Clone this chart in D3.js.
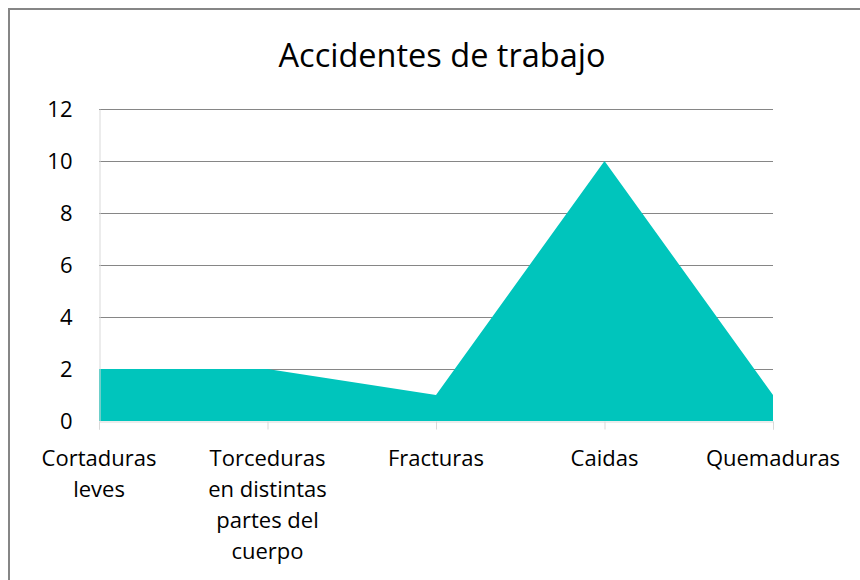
<!DOCTYPE html>
<html>
<head>
<meta charset="utf-8">
<script src="https://cdn.jsdelivr.net/npm/d3@7"></script>
<style>
  body { margin: 0; background: #fff; }
  svg { display: block; font-family: "Open Sans", "DejaVu Sans", sans-serif; }
</style>
</head>
<body>
<div id="chart"></div>
<script>
const categories = ["Cortaduras leves", "Torceduras en distintas partes del cuerpo", "Fracturas", "Caidas", "Quemaduras"];
const values = [2, 2, 1, 10, 1];
const yTicks = [0, 2, 4, 6, 8, 10, 12];
const title = "Accidentes de trabajo";

const width = 860, height = 580;
const margin = { top: 109, right: 87, bottom: 159, left: 99 };

const svg = d3.select("#chart").append("svg")
  .attr("width", width)
  .attr("height", height);

// chart frame
svg.append("rect")
  .attr("x", 9).attr("y", 9)
  .attr("width", width + 20).attr("height", height + 20)
  .attr("fill", "#fff")
  .attr("stroke", "#868686")
  .attr("stroke-width", 2);

svg.append("text")
  .attr("x", 442).attr("y", 67)
  .attr("text-anchor", "middle")
  .attr("font-size", 32.5)
  .attr("fill", "#000")
  .text(title);

const x = d3.scalePoint()
  .domain(categories)
  .range([margin.left, width - margin.right]);

const y = d3.scaleLinear()
  .domain([0, 12])
  .range([height - margin.bottom, margin.top]);

// gridlines
svg.append("g")
  .selectAll("line")
  .data(yTicks.filter(d => d > 0))
  .join("line")
  .attr("x1", margin.left).attr("x2", width - margin.right)
  .attr("y1", d => Math.round(y(d)) + 0.5)
  .attr("y2", d => Math.round(y(d)) + 0.5)
  .attr("stroke", "#868686");

const area = d3.area()
  .x((d, i) => x(categories[i]))
  .y0(y(0))
  .y1(d => y(d));

svg.append("path")
  .datum(values)
  .attr("d", area)
  .attr("fill", "#00c5bc");

// y axis
const yAxis = svg.append("g")
  .attr("transform", `translate(${margin.left + 0.5},0)`)
  .call(d3.axisLeft(y).tickValues(yTicks).tickSize(0).tickPadding(27));
yAxis.select(".domain").attr("stroke", "#d9d9d9");
yAxis.selectAll("text").attr("font-size", 22).attr("fill", "#000")
  .attr("font-family", "Open Sans");

// x axis
const xAxis = svg.append("g")
  .attr("transform", `translate(0,${Math.round(y(0)) + 0.5})`)
  .call(d3.axisBottom(x).tickSize(8).tickPadding(0).tickFormat(""));
xAxis.select(".domain").attr("stroke", "#d9d9d9");
xAxis.selectAll(".tick line").attr("stroke", "#d9d9d9");

const labels = svg.append("g")
  .selectAll("text")
  .data(categories)
  .join("text")
  .attr("x", d => x(d))
  .attr("y", 466)
  .attr("text-anchor", "middle")
  .attr("font-size", 22)
  .attr("fill", "#000");

// wrap labels to a fixed width
labels.each(function(d) {
  const t = d3.select(this);
  const words = d.split(" ");
  const lines = [];
  let line = [];
  const probe = t.append("tspan");
  words.forEach(w => {
    line.push(w);
    probe.text(line.join(" "));
    if (probe.node().getComputedTextLength() > 140 && line.length > 1) {
      line.pop();
      lines.push(line.join(" "));
      line = [w];
    }
  });
  lines.push(line.join(" "));
  probe.remove();
  lines.forEach((l, i) => {
    t.append("tspan")
      .attr("x", x(d))
      .attr("dy", i === 0 ? 0 : 31)
      .text(l);
  });
});
</script>
</body>
</html>
